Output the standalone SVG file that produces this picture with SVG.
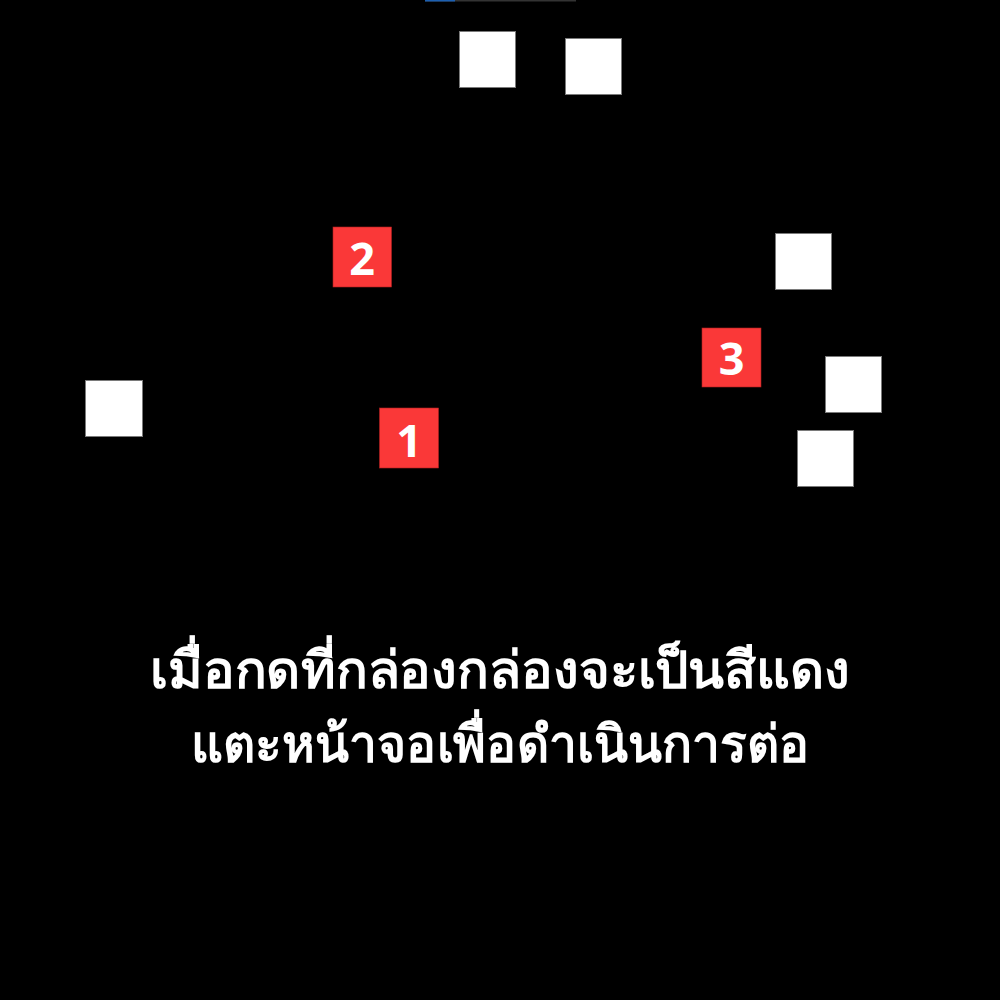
<svg xmlns="http://www.w3.org/2000/svg" width="1000" height="1000" viewBox="0 0 1000 1000">
<style>
.box{fill:#ffffff;stroke:#7a7a7a;stroke-width:1}
.red{fill:#fa3838;stroke:#b02020;stroke-width:0.6}
.num{fill:#ffffff;font-family:"Noto Sans","DejaVu Sans",sans-serif;font-weight:bold;font-size:45px;text-anchor:middle}
.cap{fill:#ffffff;font-family:"Noto Sans","DejaVu Sans",sans-serif;font-weight:bold;font-size:51px;text-anchor:middle}
</style>
<rect x="0" y="0" width="1000" height="1000" fill="#000000"/>
<g id="progress">
<rect x="425" y="0" width="151" height="1.5" fill="#333333"/>
<rect x="425" y="0" width="30" height="1.5" fill="#1c5fb0"/>
</g>
<g id="box-a"><rect class="box" x="459.5" y="31.5" width="56" height="56"/></g>
<g id="box-b"><rect class="box" x="565.5" y="38.5" width="56" height="56"/></g>
<g id="box-c"><rect class="box" x="775.5" y="233.5" width="56" height="56"/></g>
<g id="box-d"><rect class="box" x="825.5" y="356.5" width="56" height="56"/></g>
<g id="box-e"><rect class="box" x="797.5" y="430.5" width="56" height="56"/></g>
<g id="box-f"><rect class="box" x="85.5" y="380.5" width="57" height="56"/></g>
<g id="red-2"><rect class="red" x="333" y="227" width="58.5" height="60"/><text class="num" x="362" y="275">2</text></g>
<g id="red-1"><rect class="red" x="379.5" y="408" width="59" height="60"/><text class="num" x="409" y="457">1</text></g>
<g id="red-3"><rect class="red" x="702" y="328" width="59" height="59"/><text class="num" x="731.5" y="375">3</text></g>
<g id="caption">
<text class="cap" x="500" y="688" textLength="700" lengthAdjust="spacingAndGlyphs">เมื่อกดที่กล่องกล่องจะเป็นสีแดง</text>
<text class="cap" x="500" y="762" textLength="618" lengthAdjust="spacingAndGlyphs">แตะหน้าจอเพื่อดำเนินการต่อ</text>
</g>
</svg>
